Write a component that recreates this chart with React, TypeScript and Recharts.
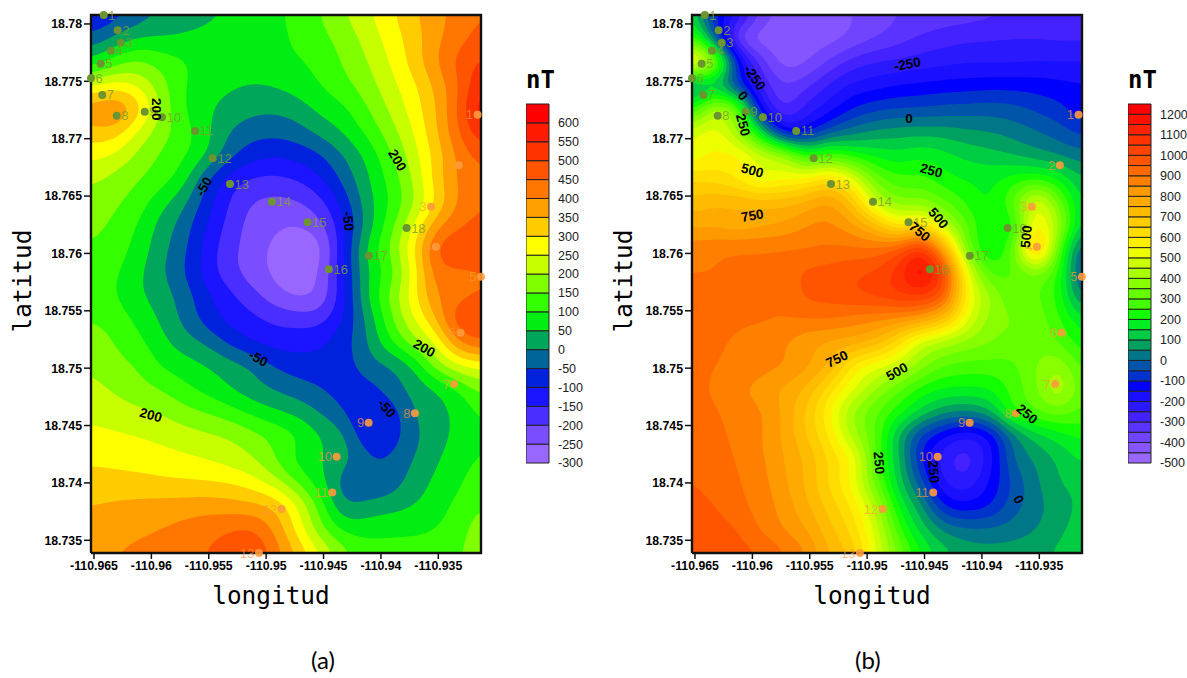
import React from 'react';
import { ScatterChart, Scatter, XAxis, YAxis, ComposedChart, ReferenceArea, Label, Line } from 'recharts';

const LON_MIN = -110.96526, LON_MAX = -110.93128;
const LAT_MIN = 18.73389, LAT_MAX = 18.78078;
const lonTicks = [-110.965, -110.96, -110.955, -110.95, -110.945, -110.94, -110.935];
const latTicks = [18.735, 18.74, 18.745, 18.75, 18.755, 18.76, 18.765, 18.77, 18.775, 18.78];
const frameCorners = [
  { lon: LON_MIN, lat: LAT_MIN }, { lon: LON_MAX, lat: LAT_MIN }, { lon: LON_MAX, lat: LAT_MAX },
  { lon: LON_MIN, lat: LAT_MAX }, { lon: LON_MIN, lat: LAT_MIN },
];

// Magnetic anomaly (nT) on a regular lon/lat grid, north to south
const fieldA = [
  [-100,-75,-30,0,20,35,55,70,90,115,150,195,240,285,340,380,420,450],
  [-35,10,52,55,60,70,80,85,90,105,135,170,215,270,320,385,430,470],
  [60,125,160,130,105,85,80,85,95,95,115,155,197,250,318,393,465,510],
  [245,270,245,175,105,70,58,45,52,75,100,135,175,230,285,360,445,545],
  [375,410,335,195,105,60,35,15,10,25,65,90,145,205,270,345,455,590],
  [330,330,245,175,125,65,0,-30,-35,-20,15,55,110,175,245,340,445,540],
  [265,245,190,145,110,55,-30,-80,-95,-85,-55,0,60,140,222,315,410,470],
  [210,185,155,125,75,-40,-120,-155,-160,-145,-105,-35,40,115,200,320,410,440],
  [185,160,130,70,15,-70,-150,-200,-215,-205,-165,-80,25,100,185,300,405,445],
  [165,140,100,35,-20,-100,-165,-220,-240,-250,-215,-110,15,125,240,380,440,470],
  [145,125,85,20,-35,-115,-180,-225,-260,-290,-270,-105,60,150,285,455,495,475],
  [130,110,65,10,-45,-120,-180,-225,-260,-285,-245,-105,40,120,255,425,435,450],
  [128,105,60,28,-20,-85,-135,-180,-230,-260,-240,-115,45,155,275,395,430,455],
  [148,130,90,45,-10,-70,-115,-135,-160,-170,-170,-95,5,130,240,345,490,495],
  [175,150,115,70,25,-5,-60,-100,-120,-120,-105,-70,-5,90,175,250,400,450],
  [195,165,150,98,75,52,25,-2,-52,-75,-85,-80,-20,-5,45,170,240,265],
  [215,195,170,150,115,85,52,20,-5,-25,-45,-75,-75,-25,15,45,100,170],
  [235,225,212,200,170,150,125,90,60,35,-5,-45,-105,-85,-5,35,60,110],
  [265,258,250,238,225,210,198,170,140,105,52,10,-90,-85,-15,25,65,100],
  [290,285,280,272,260,250,230,205,150,85,52,20,-35,-45,0,42,80,105],
  [325,322,318,312,308,305,298,275,225,145,70,-25,-48,-30,20,60,90,130],
  [350,358,365,370,375,380,375,365,345,255,130,5,20,30,50,75,115,150],
  [370,380,390,400,415,430,445,455,390,280,165,90,80,92,92,100,130,175],
  [385,400,410,420,430,450,480,505,430,345,255,170,128,115,118,125,145,175],
];

// Same grid, panel (b)
const fieldB = [
  [150,-100,-200,-360,-425,-455,-425,-400,-380,-350,-340,-330,-320,-310,-300,-300,-300,-300],
  [280,0,-350,-425,-425,-425,-420,-385,-350,-320,-290,-270,-260,-255,-250,-250,-255,-255],
  [570,380,-100,-320,-420,-405,-340,-280,-250,-240,-225,-215,-205,-205,-205,-200,-200,-200],
  [50,100,-60,-250,-345,-310,-240,-190,-170,-150,-140,-130,-125,-120,-120,-125,-135,-145],
  [230,420,300,-140,-300,-230,-170,-100,-65,-50,-45,-35,-30,-25,-35,-60,-85,-130],
  [480,520,400,150,-120,-110,-20,30,60,75,80,75,60,50,30,5,-25,-65],
  [520,560,555,470,400,240,280,230,190,170,190,165,135,120,100,75,50,20],
  [640,630,590,510,540,560,620,510,330,265,265,220,195,185,220,240,190,100],
  [720,740,740,730,730,760,800,690,470,370,370,310,240,195,300,500,330,130],
  [790,790,770,790,810,850,860,810,720,590,640,460,300,200,230,560,400,110],
  [880,890,900,900,900,900,910,910,910,960,1060,780,340,200,310,700,300,-10],
  [900,900,900,900,920,960,970,990,1010,1070,1190,1000,520,290,300,360,240,-40],
  [905,905,905,905,905,960,970,990,1010,1040,1050,950,560,400,310,310,230,30],
  [915,910,905,905,900,900,900,880,860,840,800,700,510,380,350,330,260,160],
  [920,905,895,880,855,815,790,770,730,620,480,430,380,350,330,330,300,220],
  [920,900,890,870,850,810,745,590,520,470,370,300,280,280,290,350,390,280],
  [920,890,860,830,790,740,620,510,400,310,230,195,190,200,270,340,440,310],
  [930,905,880,855,790,690,560,400,310,220,130,60,40,90,240,290,320,280],
  [935,915,885,855,790,700,590,430,300,100,-60,-150,-200,-135,30,125,175,210],
  [945,925,895,860,800,740,640,540,300,110,-100,-230,-270,-170,0,60,110,160],
  [950,930,905,870,810,740,640,530,330,130,-30,-200,-230,-140,-40,40,100,110],
  [970,950,915,880,830,760,680,590,430,200,60,-100,-130,-100,-20,30,80,110],
  [985,970,950,895,850,800,715,630,480,270,130,40,10,10,25,50,90,120],
  [995,985,965,950,905,850,750,680,510,340,200,120,80,70,75,85,110,130],
];

const colorsA = ['#9966ff','#7a4dff','#4a2dff','#1a14ff','#0022dd','#006699','#00a65a','#00ee11','#33ff00','#80ff00','#c8ff00','#ffff00','#ffcc00','#ffa000','#ff7700','#ff5500','#ff3300','#ff1a00','#ff0000'];
const colorsB = ['#9966ff','#8555ff','#7044ff','#5a33ff','#4422ff','#2a18ff','#1a0fff','#0000ff','#0033cc','#0055aa','#007788','#00a060','#00cc44','#00ee22','#11ff00','#44ff00','#66ff00','#88ff00','#aaff00','#ccff00','#eeff00','#ffee00','#ffdd00','#ffcc00','#ffbb00','#ffaa00','#ff9900','#ff8000','#ff6a00','#ff5500','#ff4400','#ff3300','#ff2200','#ff1100','#ff0000'];
const scaleTicksA = [-300,-250,-200,-150,-100,-50,0,50,100,150,200,250,300,350,400,450,500,550,600];
const scaleTicksB = [-500,-400,-300,-200,-100,0,100,200,300,400,500,600,700,800,900,1000,1100,1200];

// Station lines, numbered along each traverse
const stationsGreen = [
  { n: 1, lon: -110.96415, lat: 18.78078 }, { n: 2, lon: -110.96294, lat: 18.77945 },
  { n: 3, lon: -110.96267, lat: 18.77837 }, { n: 4, lon: -110.96352, lat: 18.77767 },
  { n: 5, lon: -110.96442, lat: 18.77654 }, { n: 6, lon: -110.96526, lat: 18.77527 },
  { n: 7, lon: -110.96428, lat: 18.77381 }, { n: 8, lon: -110.96302, lat: 18.772 },
  { n: 9, lon: -110.96058, lat: 18.77235 }, { n: 10, lon: -110.95908, lat: 18.77187 },
  { n: 11, lon: -110.95618, lat: 18.77067 }, { n: 12, lon: -110.95466, lat: 18.76829 },
  { n: 13, lon: -110.95315, lat: 18.76605 }, { n: 14, lon: -110.94949, lat: 18.76451 },
  { n: 15, lon: -110.94639, lat: 18.76271 }, { n: 16, lon: -110.94453, lat: 18.75861 },
  { n: 17, lon: -110.94105, lat: 18.7598 }, { n: 18, lon: -110.93776, lat: 18.76221 },
];
const stationsOrange = [
  { n: 1, lon: -110.93158, lat: 18.77209 }, { n: 2, lon: -110.93321, lat: 18.76768 },
  { n: 3, lon: -110.93564, lat: 18.76407 }, { n: 4, lon: -110.93521, lat: 18.76058 },
  { n: 5, lon: -110.93129, lat: 18.75797 }, { n: 6, lon: -110.93306, lat: 18.75309 },
  { n: 7, lon: -110.93362, lat: 18.74861 }, { n: 8, lon: -110.93704, lat: 18.74606 },
  { n: 9, lon: -110.94107, lat: 18.74524 }, { n: 10, lon: -110.94386, lat: 18.74228 },
  { n: 11, lon: -110.94424, lat: 18.73917 }, { n: 12, lon: -110.94865, lat: 18.73772 },
  { n: 13, lon: -110.95063, lat: 18.73389 },
];

const contourLabelsA = [
  { t: '200', a: 90, lon: -110.95954, lat: 18.77256 }, { t: '200', a: 60, lon: -110.93858, lat: 18.76812 },
  { t: '-50', a: -60, lon: -110.95542, lat: 18.76582 }, { t: '-50', a: 85, lon: -110.94285, lat: 18.76282 },
  { t: '-50', a: 30, lon: -110.95069, lat: 18.75085 }, { t: '-50', a: 50, lon: -110.9395, lat: 18.7465 },
  { t: '200', a: 30, lon: -110.93623, lat: 18.75173 }, { t: '200', a: 15, lon: -110.96006, lat: 18.74591 },
];
const contourLabelsB = [
  { t: '-250', a: 55, lon: -110.9598, lat: 18.77532 }, { t: '0', a: 50, lon: -110.96082, lat: 18.77375 },
  { t: '250', a: 75, lon: -110.96082, lat: 18.77119 }, { t: '-250', a: -10, lon: -110.9465, lat: 18.77649 },
  { t: '0', a: 0, lon: -110.94636, lat: 18.77172 }, { t: '500', a: 15, lon: -110.96, lat: 18.76721 },
  { t: '250', a: 15, lon: -110.94441, lat: 18.76721 }, { t: '750', a: -10, lon: -110.96, lat: 18.76329 },
  { t: '500', a: 50, lon: -110.9438, lat: 18.76306 }, { t: '750', a: 40, lon: -110.94543, lat: 18.76189 },
  { t: '500', a: -85, lon: -110.93613, lat: 18.76146 }, { t: '750', a: -25, lon: -110.95263, lat: 18.75079 },
  { t: '500', a: -30, lon: -110.9474, lat: 18.74969 }, { t: '250', a: 40, lon: -110.93608, lat: 18.746 },
  { t: '250', a: 85, lon: -110.94897, lat: 18.74175 }, { t: '250', a: 85, lon: -110.94421, lat: 18.74097 },
  { t: '0', a: 60, lon: -110.9368, lat: 18.73856 },
];

const SANS = '"Liberation Sans", Arial, sans-serif';
const MONO = '"DejaVu Sans Mono", monospace';
const UPSAMPLE = 5;

function catmull(p0: number, p1: number, p2: number, p3: number, t: number) {
  return 0.5 * (2 * p1 + (p2 - p0) * t + (2 * p0 - 5 * p1 + 4 * p2 - p3) * t * t + (3 * p1 - p0 - 3 * p2 + p3) * t * t * t);
}
function refine(grid: number[][]) {
  const ny = grid.length, nx = grid[0].length;
  const c = (v: number, n: number) => Math.max(0, Math.min(n - 1, v));
  const rows = (ny - 1) * UPSAMPLE + 1, cols = (nx - 1) * UPSAMPLE + 1;
  const out: number[][] = [];
  for (let j = 0; j < rows; j++) {
    const gj = Math.min(Math.floor(j / UPSAMPLE), ny - 2), tj = j / UPSAMPLE - gj;
    const row: number[] = [];
    for (let i = 0; i < cols; i++) {
      const gi = Math.min(Math.floor(i / UPSAMPLE), nx - 2), ti = i / UPSAMPLE - gi;
      const col: number[] = [];
      for (let k = -1; k <= 2; k++) {
        const r = grid[c(gj + k, ny)];
        col.push(catmull(r[c(gi - 1, nx)], r[c(gi, nx)], r[c(gi + 1, nx)], r[c(gi + 2, nx)], ti));
      }
      row.push(catmull(col[0], col[1], col[2], col[3], tj));
    }
    out.push(row);
  }
  return out;
}
// Box blur passes that take the hand-reading jitter out of the contours
function soften(f: number[][], radius: number, passes: number) {
  let cur = f;
  const rows = f.length, cols = f[0].length;
  const w = 2 * radius + 1;
  for (let p = 0; p < passes; p++) {
    const h = cur.map((r) => r.map((_, i) => {
      let s = 0;
      for (let k = -radius; k <= radius; k++) s += r[Math.max(0, Math.min(cols - 1, i + k))];
      return s / w;
    }));
    cur = h.map((r, j) => r.map((_, i) => {
      let s = 0;
      for (let k = -radius; k <= radius; k++) s += h[Math.max(0, Math.min(rows - 1, j + k))][i];
      return s / w;
    }));
  }
  return cur;
}

type Pt = { lon: number; lat: number };
function contourRings(fine: number[][], level: number) {
  const rows = fine.length, cols = fine[0].length;
  const LOW = -1e12;
  const val = (j: number, i: number) => (j < 0 || i < 0 || j >= rows || i >= cols ? LOW : fine[j][i]);
  const lonAt = (i: number) => LON_MIN + ((LON_MAX - LON_MIN) * Math.max(0, Math.min(cols - 1, i))) / (cols - 1);
  const latAt = (j: number) => LAT_MAX - ((LAT_MAX - LAT_MIN) * Math.max(0, Math.min(rows - 1, j))) / (rows - 1);
  const pos = new Map<string, Pt>();
  const adj = new Map<string, string[]>();
  const hEdge = (j: number, i: number) => {
    const k = `h${j}_${i}`;
    if (!pos.has(k)) {
      const a = val(j, i), b = val(j, i + 1);
      const t = (level - a) / (b - a);
      const ci = a === LOW ? i + 1 : b === LOW ? i : i + t;
      pos.set(k, { lon: lonAt(ci), lat: latAt(j) });
    }
    return k;
  };
  const vEdge = (j: number, i: number) => {
    const k = `v${j}_${i}`;
    if (!pos.has(k)) {
      const a = val(j, i), b = val(j + 1, i);
      const t = (level - a) / (b - a);
      const cj = a === LOW ? j + 1 : b === LOW ? j : j + t;
      pos.set(k, { lon: lonAt(i), lat: latAt(cj) });
    }
    return k;
  };
  const link = (a: string, b: string) => {
    if (!adj.has(a)) adj.set(a, []);
    if (!adj.has(b)) adj.set(b, []);
    adj.get(a)!.push(b);
    adj.get(b)!.push(a);
  };
  for (let j = -1; j < rows; j++) {
    for (let i = -1; i < cols; i++) {
      const a = val(j, i), b = val(j, i + 1), c = val(j + 1, i + 1), d = val(j + 1, i);
      const code = (a >= level ? 8 : 0) + (b >= level ? 4 : 0) + (c >= level ? 2 : 0) + (d >= level ? 1 : 0);
      if (code === 0 || code === 15) continue;
      const T = () => hEdge(j, i), B = () => hEdge(j + 1, i), L = () => vEdge(j, i), R = () => vEdge(j, i + 1);
      const center = (a + b + c + d) / 4 >= level;
      switch (code) {
        case 1: case 14: link(L(), B()); break;
        case 2: case 13: link(B(), R()); break;
        case 3: case 12: link(L(), R()); break;
        case 4: case 11: link(T(), R()); break;
        case 6: case 9: link(T(), B()); break;
        case 7: case 8: link(T(), L()); break;
        case 5:
          if (center) { link(L(), T()); link(R(), B()); } else { link(T(), R()); link(L(), B()); }
          break;
        case 10:
          if (center) { link(T(), R()); link(B(), L()); } else { link(L(), T()); link(R(), B()); }
          break;
      }
    }
  }
  const seen = new Set<string>();
  const points: Pt[] = [];
  const lengths: number[] = [];
  adj.forEach((_, start) => {
    if (seen.has(start)) return;
    let cur = start, prev = '', count = 0;
    while (cur && !seen.has(cur)) {
      seen.add(cur);
      points.push(pos.get(cur)!);
      count++;
      const n = adj.get(cur)!;
      const next = n[0] !== prev ? n[0] : n[1];
      prev = cur;
      cur = next;
    }
    lengths.push(count);
  });
  return { points, lengths };
}

function bandsFor(field: number[][], firstLevel: number, colors: string[], radius: number, passes: number) {
  const fine = soften(refine(field), radius, passes);
  return colors.map((color, i) => {
    const level = i === 0 ? -1e6 : firstLevel + i * 50;
    return { color, level, ...contourRings(fine, level) };
  });
}

const NoShape = () => <g />;

function ringLine(lengths: number[], color: string) {
  return (props: any) => {
    const pts = props.points || [];
    let d = '';
    let at = 0;
    for (const len of lengths) {
      for (let k = 0; k < len; k++) {
        const p = pts[at + k];
        d += `${k === 0 ? 'M' : 'L'}${p.x.toFixed(1)} ${p.y.toFixed(1)}`;
      }
      d += 'Z';
      at += len;
    }
    return <path d={d} fill={color} fillRule="evenodd" stroke="none" />;
  };
}

const GreenStation = (p: any) => (
  <g>
    <circle cx={p.cx} cy={p.cy} r={4} fill="#6d952f" />
    <text x={p.cx + 4.5} y={p.cy + 4.5} fontSize={13} fontFamily={SANS} fill="#7d9f2f" fillOpacity={0.85}>{p.payload.n}</text>
  </g>
);
const OrangeStation = (p: any) => (
  <g>
    <circle cx={p.cx} cy={p.cy} r={4} fill="#ff9a3c" fillOpacity={0.9} />
    <text x={p.cx - 4.5} y={p.cy + 4.5} fontSize={13} fontFamily={SANS} fill="#ff9a3c" fillOpacity={0.7} textAnchor="end">{p.payload.n}</text>
  </g>
);
const ContourLabel = (p: any) => (
  <text
    x={p.cx} y={p.cy} fontSize={13.5} fontWeight={700} fontFamily={SANS} fill="#000"
    textAnchor="middle" dominantBaseline="central" transform={`rotate(${p.payload.a} ${p.cx} ${p.cy})`}
  >{p.payload.t}</text>
);

const tickStyle = { fontFamily: SANS, fontSize: 12.3, fontWeight: 700, fill: '#000' };
const axisLine = { stroke: '#111', strokeWidth: 2 };
const tickLine = { stroke: '#111', strokeWidth: 1.5 };
const titleStyle = { fontFamily: MONO, fontSize: 24.4, fill: '#000' };

function Panel({ left, bands, labels }: { left: number; bands: ReturnType<typeof bandsFor>; labels: typeof contourLabelsA }) {
  return (
    <div style={{ position: 'absolute', left, top: 0 }}>
      <ScatterChart width={560} height={610} margin={{ top: 0, right: 69, bottom: 10, left: 0 }}>
        <XAxis
          type="number" dataKey="lon" domain={[LON_MIN, LON_MAX]} ticks={lonTicks} interval={0} height={47}
          tick={tickStyle} tickSize={6} tickMargin={2} axisLine={axisLine} tickLine={tickLine}
          tickFormatter={(v: number) => String(v)}
        >
          <Label content={() => <text x={271} y={604} textAnchor="middle" style={titleStyle}>longitud</text>} />
        </XAxis>
        <XAxis
          xAxisId="top" orientation="top" type="number" domain={[LON_MIN, LON_MAX]} ticks={lonTicks} interval={0} height={15}
          tickSize={6} axisLine={axisLine} tickLine={tickLine} tickFormatter={() => ''}
        />
        <YAxis
          type="number" dataKey="lat" domain={[LAT_MIN, LAT_MAX]} ticks={latTicks} interval={0} width={91}
          tick={tickStyle} tickSize={7} tickMargin={2} axisLine={axisLine} tickLine={tickLine}
          tickFormatter={(v: number) => String(v)}
        >
          <Label content={() => <text x={31} y={281} textAnchor="middle" transform="rotate(-90 31 281)" style={titleStyle}>latitud</text>} />
        </YAxis>
        <YAxis
          yAxisId="right" orientation="right" type="number" domain={[LAT_MIN, LAT_MAX]} ticks={latTicks} interval={0} width={10}
          tickSize={6} axisLine={axisLine} tickLine={tickLine} tickFormatter={() => ''}
        />
        {bands.map((b) => (
          <Scatter key={b.level} data={b.points} shape={NoShape} line={ringLine(b.lengths, b.color)} isAnimationActive={false} legendType="none" />
        ))}
        <Scatter data={frameCorners} shape={NoShape} line={{ stroke: '#111', strokeWidth: 2.4 }} isAnimationActive={false} legendType="none" />
        <Scatter data={stationsGreen} shape={GreenStation} isAnimationActive={false} legendType="none" />
        <Scatter data={stationsOrange} shape={OrangeStation} isAnimationActive={false} legendType="none" />
        <Scatter data={labels} shape={ContourLabel} isAnimationActive={false} legendType="none" />
      </ScatterChart>
    </div>
  );
}

function ColorScale({ left, colors, start, ticks, top }: { left: number; colors: string[]; start: number; ticks: number[]; top: number }) {
  return (
    <div style={{ position: 'absolute', left, top: 94 }}>
      <ComposedChart width={63} height={380} data={[{ x: 0 }, { x: 1 }]} margin={{ top: 10, right: 0, bottom: 11, left: 0 }}>
        <XAxis type="number" dataKey="x" domain={[0, 1]} hide />
        <YAxis
          orientation="right" type="number" domain={[start, top]} ticks={ticks} interval={0} width={40}
          axisLine={false} tickLine={false} tickMargin={3}
          tick={{ fontFamily: SANS, fontSize: 12.5, fill: '#222' }}
        />
        {colors.map((c, i) => (
          <ReferenceArea key={c + i} x1={0} x2={1} y1={start + i * 50} y2={start + (i + 1) * 50} fill={c} fillOpacity={1} stroke="#222" strokeWidth={1} />
        ))}
        <Line dataKey="x" stroke="none" dot={false} isAnimationActive={false} legendType="none" />
      </ComposedChart>
    </div>
  );
}

const bandsA = bandsFor(fieldA, -300, colorsA, 2, 2);
const bandsB = bandsFor(fieldB, -500, colorsB, 1, 4);

const abs = (left: number, top: number): React.CSSProperties => ({ position: 'absolute', left, top, lineHeight: 1, whiteSpace: 'nowrap' });

export default function App() {
  return (
    <div style={{ position: 'absolute', left: 0, top: 0, width: 1187, height: 678, background: '#fff', overflow: 'hidden' }}>
      <Panel left={0} bands={bandsA} labels={contourLabelsA} />
      <Panel left={601} bands={bandsB} labels={contourLabelsB} />
      <ColorScale left={526} colors={colorsA} start={-300} top={650} ticks={scaleTicksA} />
      <ColorScale left={1128} colors={colorsB} start={-500} top={1250} ticks={scaleTicksB} />
      <div style={{ ...abs(526, 68), fontFamily: MONO, fontWeight: 700, fontSize: 24 }}>nT</div>
      <div style={{ ...abs(1128, 68), fontFamily: MONO, fontWeight: 700, fontSize: 24 }}>nT</div>
      <div style={{ ...abs(311, 648), fontFamily: 'Lato, sans-serif', fontSize: 24 }}>(a)</div>
      <div style={{ ...abs(855, 648), fontFamily: 'Lato, sans-serif', fontSize: 24 }}>(b)</div>
    </div>
  );
}
